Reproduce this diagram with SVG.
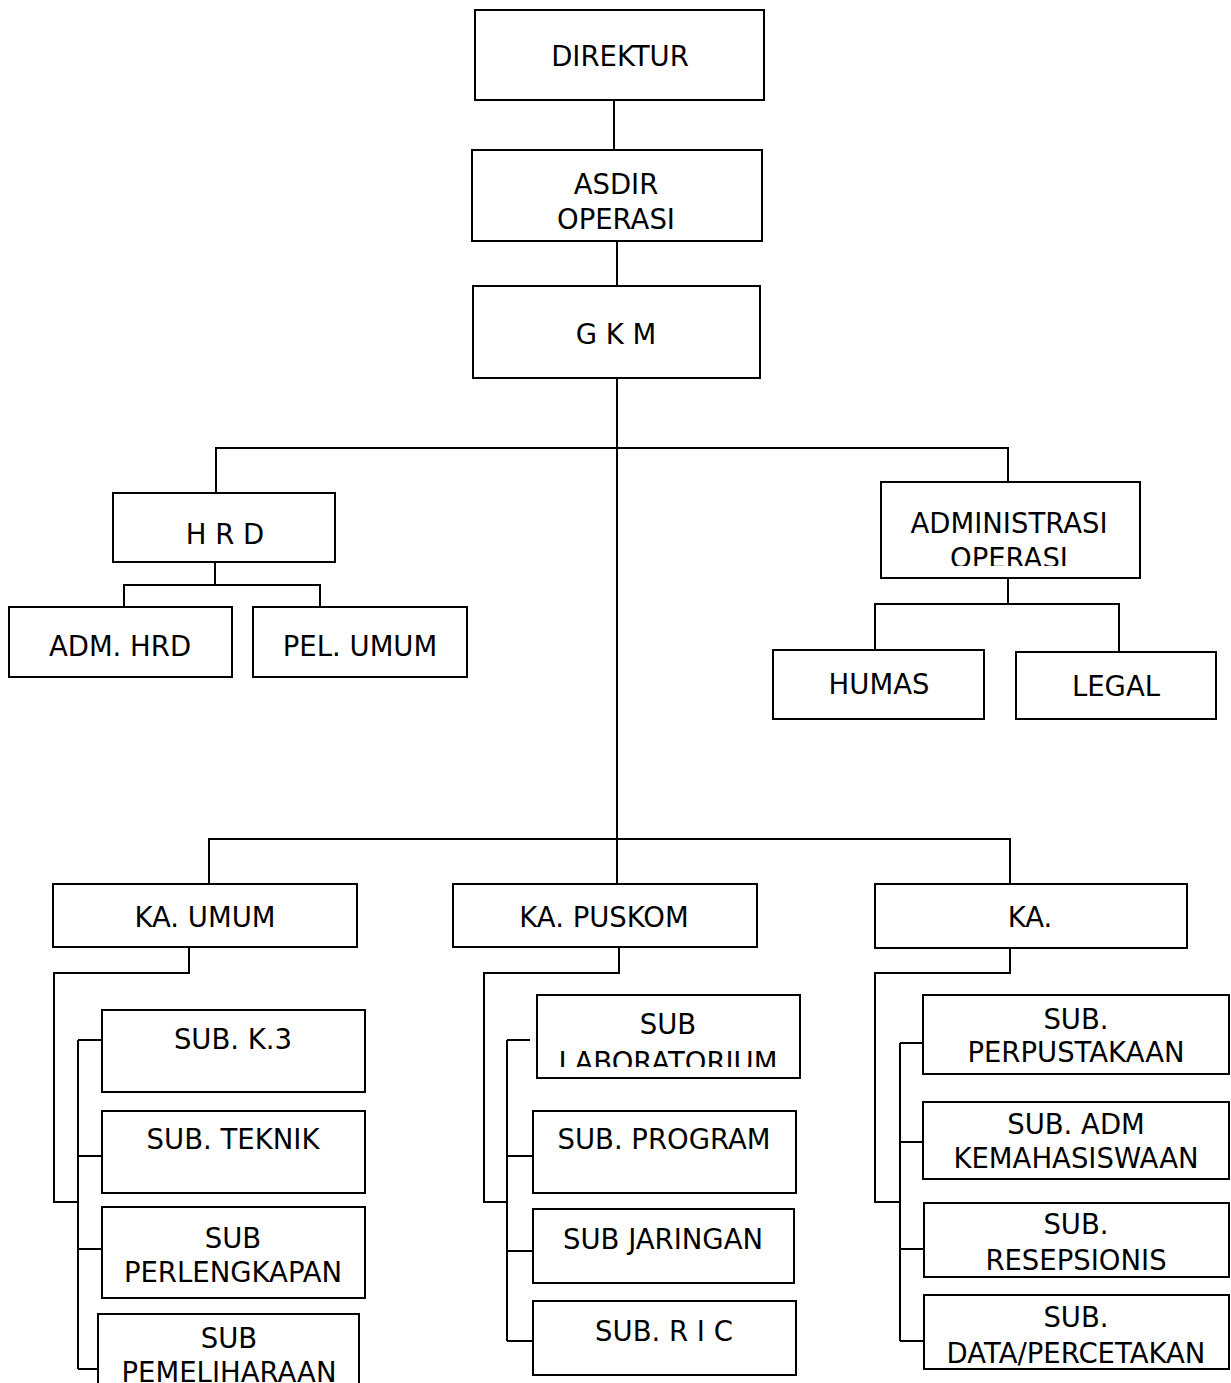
<svg xmlns="http://www.w3.org/2000/svg" width="1231" height="1383" viewBox="0 0 1231 1383">
<style>
.box{fill:#fff;stroke:#000;stroke-width:2}
.ln{fill:none;stroke:#000;stroke-width:2}
text{font-family:"DejaVu Sans","Liberation Sans",sans-serif;font-size:27.5px;fill:#000;text-anchor:middle}
</style>
<defs>
<clipPath id="c-asdir"><rect x="472" y="150" width="290" height="79"/></clipPath>
<clipPath id="c-adm"><rect x="881" y="482" width="259" height="84"/></clipPath>
<clipPath id="c-lab"><rect x="537" y="995" width="263" height="72"/></clipPath>
</defs>
<g id="connectors">
<path class="ln" d="M614 100V150"/>
<path class="ln" d="M617 241V286"/>
<path class="ln" d="M617 378V884"/>
<path class="ln" d="M216 493V448H1008V482"/>
<path class="ln" d="M215 562V585M124 607V585H320V607"/>
<path class="ln" d="M1008 578V604M875 650V604H1119V652"/>
<path class="ln" d="M209 884V839H1010V884"/>
<path class="ln" d="M189 947V973H54V1202H78"/>
<path class="ln" d="M78 1040V1369M78 1040H102M78 1156H102M78 1249H102M78 1369H98"/>
<path class="ln" d="M619 947V973H484V1202H507"/>
<path class="ln" d="M507 1040V1341M507 1040H530M507 1156H533M507 1251H533M507 1341H533"/>
<path class="ln" d="M1010 948V973H875V1202H900"/>
<path class="ln" d="M900 1043V1341M900 1043H923M900 1142H923M900 1249H924M900 1341H924"/>
</g>
<g id="direktur"><rect class="box" x="475" y="10" width="289" height="90"/><text x="620" y="66">DIREKTUR</text></g>
<g id="asdir"><rect class="box" x="472" y="150" width="290" height="91"/><g clip-path="url(#c-asdir)"><text x="616" y="194">ASDIR</text><text x="616" y="229">OPERASI</text></g></g>
<g id="gkm"><rect class="box" x="473" y="286" width="287" height="92"/><text x="616" y="344">G K M</text></g>
<g id="hrd"><rect class="box" x="113" y="493" width="222" height="69"/><text x="225" y="544">H R D</text></g>
<g id="adm-hrd"><rect class="box" x="9" y="607" width="223" height="70"/><text x="120" y="656">ADM. HRD</text></g>
<g id="pel-umum"><rect class="box" x="253" y="607" width="214" height="70"/><text x="360" y="656">PEL. UMUM</text></g>
<g id="adm-operasi"><rect class="box" x="881" y="482" width="259" height="96"/><g clip-path="url(#c-adm)"><text x="1009" y="533">ADMINISTRASI</text><text x="1009" y="568">OPERASI</text></g></g>
<g id="humas"><rect class="box" x="773" y="650" width="211" height="69"/><text x="879" y="694">HUMAS</text></g>
<g id="legal"><rect class="box" x="1016" y="652" width="200" height="67"/><text x="1116" y="696">LEGAL</text></g>
<g id="ka-umum"><rect class="box" x="53" y="884" width="304" height="63"/><text x="205" y="927">KA. UMUM</text></g>
<g id="ka-puskom"><rect class="box" x="453" y="884" width="304" height="63"/><text x="604" y="927">KA. PUSKOM</text></g>
<g id="ka"><rect class="box" x="875" y="884" width="312" height="64"/><text x="1030" y="927">KA.</text></g>
<g id="sub-k3"><rect class="box" x="102" y="1010" width="263" height="82"/><text x="233" y="1049">SUB. K.3</text></g>
<g id="sub-teknik"><rect class="box" x="102" y="1111" width="263" height="82"/><text x="233" y="1149">SUB. TEKNIK</text></g>
<g id="sub-perlengkapan"><rect class="box" x="102" y="1207" width="263" height="91"/><text x="233" y="1248">SUB</text><text x="233" y="1282">PERLENGKAPAN</text></g>
<g id="sub-pemeliharaan"><rect class="box" x="98" y="1314" width="261" height="90"/><text x="229" y="1348">SUB</text><text x="229" y="1382">PEMELIHARAAN</text></g>
<g id="sub-lab"><rect class="box" x="537" y="995" width="263" height="83"/><g clip-path="url(#c-lab)"><text x="668" y="1034">SUB</text><text x="668" y="1072">LABORATORIUM</text></g></g>
<g id="sub-program"><rect class="box" x="533" y="1111" width="263" height="82"/><text x="664" y="1149">SUB. PROGRAM</text></g>
<g id="sub-jaringan"><rect class="box" x="533" y="1209" width="261" height="74"/><text x="663" y="1249">SUB JARINGAN</text></g>
<g id="sub-ric"><rect class="box" x="533" y="1301" width="263" height="74"/><text x="664" y="1341">SUB. R I C</text></g>
<g id="sub-perpustakaan"><rect class="box" x="923" y="995" width="306" height="79"/><text x="1076" y="1029">SUB.</text><text x="1076" y="1062">PERPUSTAKAAN</text></g>
<g id="sub-kemahasiswaan"><rect class="box" x="923" y="1102" width="306" height="77"/><text x="1076" y="1134">SUB. ADM</text><text x="1076" y="1168">KEMAHASISWAAN</text></g>
<g id="sub-resepsionis"><rect class="box" x="924" y="1203" width="305" height="74"/><text x="1076" y="1234">SUB.</text><text x="1076" y="1270">RESEPSIONIS</text></g>
<g id="sub-data"><rect class="box" x="924" y="1295" width="305" height="74"/><text x="1076" y="1327">SUB.</text><text x="1076" y="1363">DATA/PERCETAKAN</text></g>
</svg>
